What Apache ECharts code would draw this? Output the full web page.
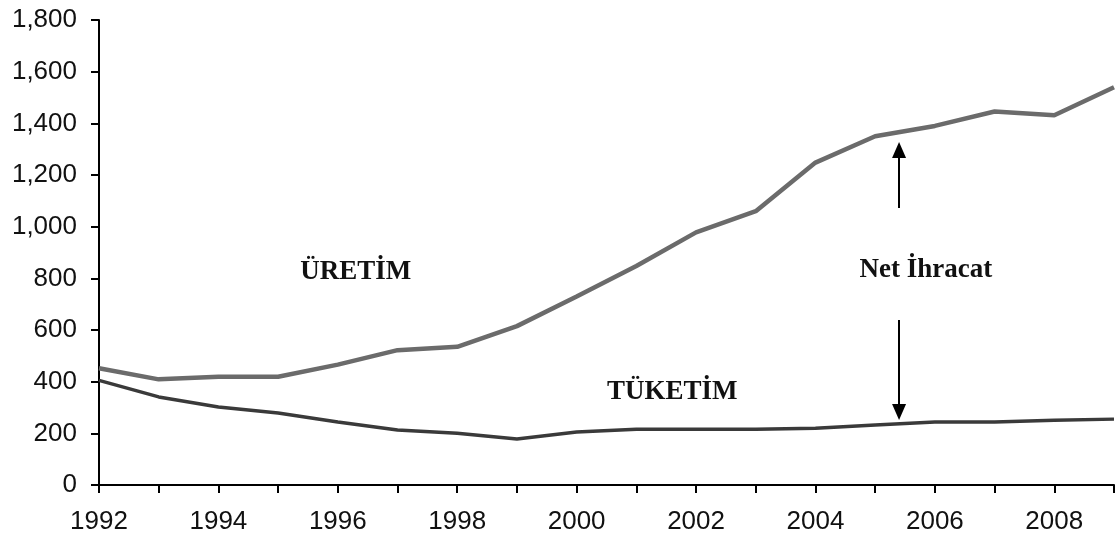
<!DOCTYPE html>
<html><head><meta charset="utf-8">
<script src="https://cdn.jsdelivr.net/npm/echarts@6/dist/echarts.min.js"></script>
<style>html,body{margin:0;padding:0;background:#fff}#c{width:1117px;height:535px}</style>
</head><body><div id="c"></div>
<script>
const years = [1992,1993,1994,1995,1996,1997,1998,1999,2000,2001,2002,2003,2004,2005,2006,2007,2008,2009];
const uretim = [452,409,419,419,466,522,535,615,730,848,978,1060,1248,1350,1390,1446,1431,1540];
const tuketim = [405,341,302,279,244,213,200,178,205,216,216,216,220,232,244,244,251,255];
const yTicks = {min:0, max:1800, step:200};
const labels = [
  {text:'ÜRETİM', x:1996.3, y:825},
  {text:'Net İhracat', x:2005.85, y:832},
  {text:'TÜKETİM', x:2001.6, y:360}
];
const arrowX = 2005.4;
const arrows = [
  {from:1072, to:1297},
  {from:639, to:283}
];

const chart = echarts.init(document.getElementById('c'));
const fmt = v => v.toLocaleString('en-US');
chart.setOption({
  animation:false,
  backgroundColor:'#fff',
  grid:{left:99, right:3, top:20, bottom:50},
  xAxis:{type:'value', min:years[0], max:years[years.length-1], interval:1,
    axisLine:{lineStyle:{color:'#000', width:2}},
    axisTick:{show:true, length:8, lineStyle:{color:'#000', width:2}},
    splitLine:{show:false},
    axisLabel:{margin:24, fontSize:26, color:'#111', fontFamily:'Liberation Sans, Arial',
      formatter:v => (v % 2 === 0 ? String(v) : '')}
  },
  yAxis:{type:'value', min:yTicks.min, max:yTicks.max, interval:yTicks.step,
    axisLine:{show:true, lineStyle:{color:'#000', width:2}},
    axisTick:{show:true, length:8, lineStyle:{color:'#000', width:2}},
    splitLine:{show:false},
    axisLabel:{margin:22, fontSize:26, color:'#111', fontFamily:'Liberation Sans, Arial', formatter:fmt}
  },
  series:[
    {name:'ÜRETİM', type:'line', data:years.map((y,i)=>[y,uretim[i]]), showSymbol:false,
      lineStyle:{color:'#6b6b6b', width:4.5}, itemStyle:{color:'#6b6b6b'}, z:3},
    {name:'TÜKETİM', type:'line', data:years.map((y,i)=>[y,tuketim[i]]), showSymbol:false,
      lineStyle:{color:'#3a3a3a', width:3.5}, itemStyle:{color:'#3a3a3a'}, z:3,
      markLine:{silent:true, symbol:['none','triangle'], symbolSize:[14,16],
        lineStyle:{color:'#000', width:2, type:'solid'}, label:{show:false},
        emphasis:{disabled:true},
        data: arrows.map(a => [{coord:[arrowX, a.from]}, {coord:[arrowX, a.to]}])
      },
      markPoint:{silent:true, symbol:'rect', symbolSize:1, itemStyle:{color:'rgba(0,0,0,0)'},
        label:{show:true, position:'inside', fontFamily:'Liberation Serif, Times New Roman', fontWeight:'bold', fontSize:27, color:'#111',
          formatter:p => p.name},
        data: labels.map(l => ({name:l.text, coord:[l.x, l.y]}))
      }
    }
  ]
});
</script></body></html>
